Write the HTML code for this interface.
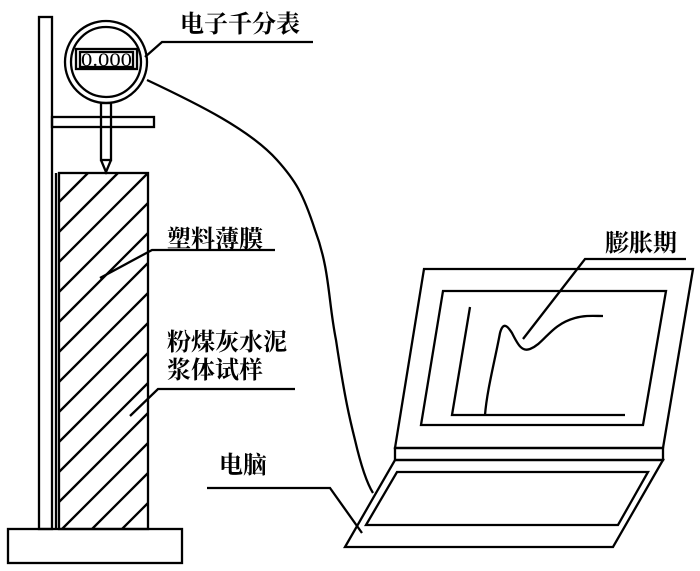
<!DOCTYPE html>
<html><head><meta charset="utf-8"><style>
html,body{margin:0;padding:0;background:#fff;width:700px;height:571px;overflow:hidden}
svg{display:block}
text{font-family:"Liberation Serif","Noto Serif CJK SC","Noto Sans CJK SC",serif;fill:#000;font-weight:bold}
</style></head><body>
<svg width="700" height="571" viewBox="0 0 700 571" xmlns="http://www.w3.org/2000/svg">
<g fill="none" stroke="#000" stroke-width="2.3">
<rect x="39" y="17" width="13" height="512"/>
<rect x="8" y="529" width="174" height="34"/>
<rect x="52" y="117" width="102" height="10"/>
<line x1="56" y1="173" x2="56" y2="529"/>
<rect x="59" y="173" width="89" height="356"/>
<path d="M59,202L88,173M59,232L118,173M59,262L148,173M59,292L148,203M59,322L148,233M59,352L148,263M59,382L148,293M59,412L148,323M59,442L148,353M59,472L148,383M59,502L148,413M62,529L148,443M92,529L148,473M122,529L148,503"/>
<circle cx="106" cy="62" r="41"/>
<circle cx="106" cy="62" r="35"/>
<rect x="76" y="49" width="61" height="20"/>
<rect x="80" y="52" width="53" height="15"/>
<rect x="101" y="103" width="10" height="57"/>
<path d="M101,160 L106,172 L111,160"/>
<path d="M145,57 L162,42 L313,42"/>
<path d="M100,278 L152,250 L275,250"/>
<path d="M130,416 L158,389 L295,389"/>
<path d="M207,488 L330,488 L362,533"/>
<path d="M147,80 C200,105 250,130 277,160 C295,180 303,193 315,230 C330,270 328,300 336,340 C345,400 350,420 355,440 C362,470 368,485 373,493"/>
<path d="M424,269 L693,269 L663,448 L395,448 Z"/>
<path d="M443,291 L666,291 L643,425 L421,425 Z"/>
<rect x="395" y="448" width="268" height="12"/>
<path d="M395,460 L663,460 L613,547 L345,547 Z"/>
<path d="M397,472 L648,472 L618,525 L366,525 Z"/>
<path d="M470,307 L452,415 L625,415"/>
<path d="M485,415 C487,390 495,360 500,333 C503,322 507,325 512,333 C518,345 522,352 530,349 C545,343 550,325 575,318 C585,315 595,316 603,316"/>
<path d="M523,339 L585,259 L686,259"/>
</g>
<text x="81" y="66" font-size="19" style="font-weight:normal" textLength="51" lengthAdjust="spacingAndGlyphs">0.000</text>
<text x="180" y="32" font-size="24">电子千分表</text>
<text x="167" y="247" font-size="24">塑料薄膜</text>
<text x="167" y="350" font-size="24">粉煤灰水泥</text>
<text x="167" y="378" font-size="24">浆体试样</text>
<text x="219" y="473" font-size="24">电脑</text>
<text x="605" y="251" font-size="24">膨胀期</text>
</svg>
</body></html>
